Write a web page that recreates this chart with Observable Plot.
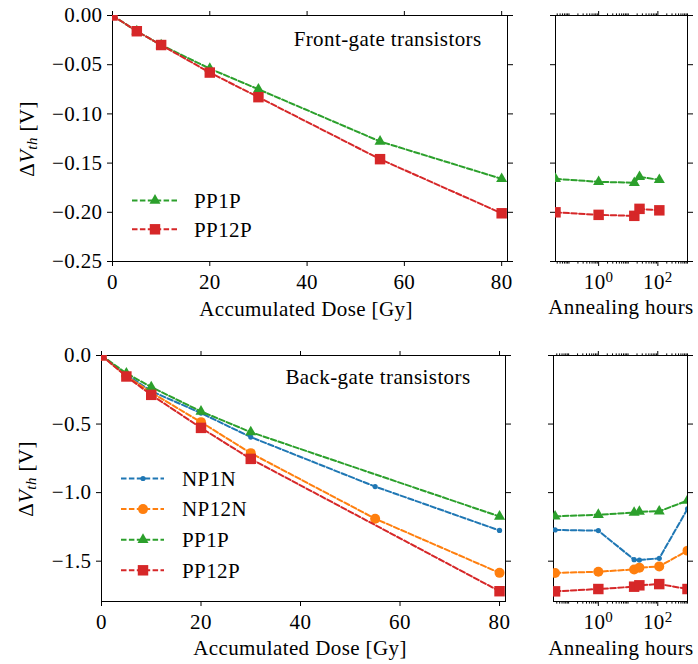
<!DOCTYPE html>
<html><head><meta charset="utf-8">
<script src="https://cdn.jsdelivr.net/npm/d3@7"></script>
<script src="https://cdn.jsdelivr.net/npm/@observablehq/plot@0.6"></script>
<style>
html,body{margin:0;padding:0;background:#fff;}
#root{position:relative;width:698px;height:664px;overflow:hidden;font-family:"Liberation Serif",serif;background:#fff;}
.panel{position:absolute;}
.panel svg text{font-family:"Liberation Serif",serif;}
.lbl{position:absolute;font-size:21px;letter-spacing:0.4px;white-space:nowrap;color:#000;line-height:1;}
#overlay{position:absolute;left:0;top:0;pointer-events:none;}
</style></head><body><div id="root"></div>
<script>
// ---------- data ----------
const doses = [0, 5, 10, 20, 30, 55, 80];
const frontPP1P  = [0, -0.016, -0.030, -0.054, -0.075, -0.128, -0.166];
const frontPP12P = [0, -0.016, -0.030, -0.058, -0.083, -0.146, -0.201];
const backNP1N  = [0, -0.14, -0.26, -0.42, -0.595, -0.956, -1.276];
const backNP12N = [0, -0.15, -0.27, -0.486, -0.712, -1.19, -1.585];
const backPP1P  = [0, -0.13, -0.23, -0.408, -0.559, null, -1.174];
const backPP12P = [0, -0.153, -0.287, -0.528, -0.754, null, -1.719];

const annealHoursFront = [0.035, 1, 16, 24, 112];
const annealFrontPP1P  = [-0.166, -0.169, -0.170, -0.164, -0.167];
const annealFrontPP12P = [-0.200, -0.2026, -0.2036, -0.1965, -0.198];

const annealHoursBack = [0.035, 1, 16, 24, 112, 1000];
const annealBackNP1N  = [-1.272, -1.277, -1.489, -1.492, -1.479, -1.119];
const annealBackNP12N = [-1.586, -1.577, -1.560, -1.547, -1.538, -1.423];
const annealBackPP1P  = [-1.173, -1.161, -1.146, -1.139, -1.136, -1.058];
const annealBackPP12P = [-1.720, -1.703, -1.686, -1.676, -1.667, -1.703];

const doseTicks = [0, 20, 40, 60, 80];
const frontYTicks = [0, -0.05, -0.10, -0.15, -0.20, -0.25];
const backYTicks = [0, -0.5, -1.0, -1.5];
const logMajorTicks = [1, 100];
const logMinorTicks = [0.04,0.05,0.06,0.07,0.08,0.09,0.1,0.2,0.3,0.4,0.5,0.6,0.7,0.8,0.9,2,3,4,5,6,7,8,9,10,20,30,40,50,60,70,80,90,200,300,400,500,600,700,800,900,1000];

const seriesNames = ["NP1N", "NP12N", "PP1P", "PP12P"];
const style = {
  NP1N:  {color: "#1f77b4", symbol: "circle",   r: 2.6},
  NP12N: {color: "#ff7f0e", symbol: "circle",   r: 5.0},
  PP1P:  {color: "#2ca02c", symbol: "triangle", r: 4.1},
  PP12P: {color: "#d62728", symbol: "square",   r: 5.9}
};
const FONT = "'Liberation Serif', serif";
const DASH = "5.5,2.4";
const LW = 2;

// ---------- helpers ----------
function rows(xs, ys) {
  return xs.map((x, i) => ({x, y: ys[i]})).filter(d => d.y != null);
}
function seriesMarks(data, name) {
  const st = style[name];
  return [
    Plot.line(data, {x: "x", y: "y", stroke: st.color, strokeWidth: LW, strokeDasharray: DASH, clip: true}),
    Plot.dot(data, {x: "x", y: "y", fill: st.color, symbol: st.symbol, r: st.r, clip: true})
  ];
}
const blank = () => "";
const tf = {fontFamily: FONT, fontSize: 21};

function panel(o) {
  const marks = [];
  marks.push(Plot.frame({stroke: "black", strokeWidth: 1}));
  marks.push(Plot.axisX({anchor: "bottom", ticks: o.xMajor, tickSize: 5, tickPadding: 8, tickFormat: o.xFormat, label: null, ...tf}));
  marks.push(Plot.axisX({anchor: "top", ticks: o.xMajor, tickSize: 5, tickFormat: blank, label: null}));
  if (o.xMinor) {
    marks.push(Plot.axisX({anchor: "bottom", ticks: o.xMinor, tickSize: 2.6, tickFormat: blank, label: null}));
    marks.push(Plot.axisX({anchor: "top", ticks: o.xMinor, tickSize: 2.6, tickFormat: blank, label: null}));
  }
  marks.push(Plot.axisY({anchor: "left", ticks: o.yTicks, tickSize: 5, tickPadding: 5, tickFormat: o.yFormat || blank, label: null, ...tf}));
  marks.push(Plot.axisY({anchor: "right", ticks: o.yTicks, tickSize: 5, tickFormat: blank, label: null}));
  for (const s of o.series) marks.push(...seriesMarks(s.data, s.name));
  if (o.note) {
    marks.push(Plot.text([o.note.text], {text: d => d, frameAnchor: "top-right", dx: o.note.dx, dy: o.note.dy,
      textAnchor: "end", lineAnchor: "middle", fill: "black", ...tf}));
  }
  const svg = Plot.plot({
    width: o.width, height: o.height,
    marginLeft: o.ml, marginRight: o.mr, marginTop: o.mt, marginBottom: o.mb,
    x: o.x, y: o.y,
    style: {fontFamily: FONT, fontSize: "21px", letterSpacing: "0.4px", color: "black", background: "transparent", overflow: "visible"},
    marks
  });
  // superscripts for log tick labels
  d3.select(svg).selectAll("text").each(function() {
    const m = /^10\^(-?\d+)$/.exec(this.textContent);
    if (m) {
      const s = d3.select(this);
      s.text("10");
      s.append("tspan").attr("dy", "-0.5em").attr("font-size", "15px").text(m[1]);
    }
  });
  const div = document.createElement("div");
  div.className = "panel";
  div.style.left = o.left + "px";
  div.style.top = o.top + "px";
  div.appendChild(svg);
  root.appendChild(div);
}
function label(html, cx, cy, rotate) {
  const d = document.createElement("div");
  d.className = "lbl";
  d.innerHTML = html;
  d.style.left = cx + "px";
  d.style.top = cy + "px";
  d.style.transform = "translate(-50%,-50%)" + (rotate ? " rotate(-90deg)" : "");
  root.appendChild(d);
}

const root = document.getElementById("root");
const logFmt = d => "10^" + Math.round(Math.log10(d));

// ---------- panels ----------
panel({left: 0, top: 0, width: 530, height: 320, ml: 112, mr: 23, mt: 15, mb: 59,
  x: {domain: [0, 81.2]}, y: {domain: [-0.25, 0]},
  xMajor: doseTicks, xFormat: d3.format("d"), yTicks: frontYTicks, yFormat: d3.format(".2f"),
  series: [{name: "PP1P", data: rows(doses, frontPP1P)}, {name: "PP12P", data: rows(doses, frontPP12P)}],
  note: {text: "Front-gate transistors", dx: -26, dy: 24}
});
panel({left: 530, top: 0, width: 168, height: 320, ml: 25, mr: 11, mt: 15, mb: 59,
  x: {type: "log", domain: [0.035, 1000]}, y: {domain: [-0.25, 0]},
  xMajor: logMajorTicks, xMinor: logMinorTicks.filter(v => v >= 0.035), xFormat: logFmt, yTicks: frontYTicks,
  series: [{name: "PP1P", data: rows(annealHoursFront, annealFrontPP1P)}, {name: "PP12P", data: rows(annealHoursFront, annealFrontPP12P)}]
});
panel({left: 0, top: 340, width: 530, height: 324, ml: 101, mr: 25, mt: 15, mb: 63,
  x: {domain: [0, 81.2]}, y: {domain: [-1.794, 0]},
  xMajor: doseTicks, xFormat: d3.format("d"), yTicks: backYTicks, yFormat: d3.format(".1f"),
  series: [
    {name: "NP1N", data: rows(doses, backNP1N)}, {name: "NP12N", data: rows(doses, backNP12N)},
    {name: "PP1P", data: rows(doses, backPP1P)}, {name: "PP12P", data: rows(doses, backPP12P)}],
  note: {text: "Back-gate transistors", dx: -35, dy: 22}
});
panel({left: 530, top: 340, width: 168, height: 324, ml: 23, mr: 11, mt: 15, mb: 63,
  x: {type: "log", domain: [0.031, 1000]}, y: {domain: [-1.794, 0]},
  xMajor: logMajorTicks, xMinor: logMinorTicks.filter(v => v >= 0.031), xFormat: logFmt, yTicks: backYTicks,
  series: [
    {name: "NP1N", data: rows(annealHoursBack, annealBackNP1N)}, {name: "NP12N", data: rows(annealHoursBack, annealBackNP12N)},
    {name: "PP1P", data: rows(annealHoursBack, annealBackPP1P)}, {name: "PP12P", data: rows(annealHoursBack, annealBackPP12P)}]
});

// ---------- axis labels ----------
const yLab = "&Delta;<i>V</i><sub style=\"font-size:15px;vertical-align:-3px\"><i>th</i></sub> [V]";
label("Accumulated Dose [Gy]", 306, 309);
label("Annealing hours", 621, 307);
label("Accumulated Dose [Gy]", 300, 648);
label("Annealing hours", 621, 648);
label(yLab, 28, 139, true);
label(yLab, 27, 479, true);

// ---------- legends ----------
const ov = d3.select(root).append("svg").attr("id", "overlay").attr("width", 698).attr("height", 664);
function legend(names, x0, x1, xm, xt, y0, dy) {
  names.forEach((n, i) => {
    const st = style[n], y = y0 + i * dy;
    ov.append("line").attr("x1", x0).attr("x2", x1).attr("y1", y).attr("y2", y)
      .attr("stroke", st.color).attr("stroke-width", LW).attr("stroke-dasharray", DASH);
    const type = st.symbol === "circle" ? d3.symbolCircle : st.symbol === "triangle" ? d3.symbolTriangle : d3.symbolSquare;
    ov.append("path").attr("d", d3.symbol(type, Math.PI * st.r * st.r)())
      .attr("transform", `translate(${xm},${y})`).attr("fill", st.color);
    ov.append("text").attr("x", xt).attr("y", y).attr("dy", "0.35em")
      .attr("font-family", FONT).attr("font-size", 21).attr("letter-spacing", "0.4px").text(n);
  });
}
legend(["PP1P", "PP12P"], 132, 177, 155, 194, 200.5, 28.8);
legend(seriesNames, 121, 164, 143, 182, 478.5, 30.6);
</script></body></html>
